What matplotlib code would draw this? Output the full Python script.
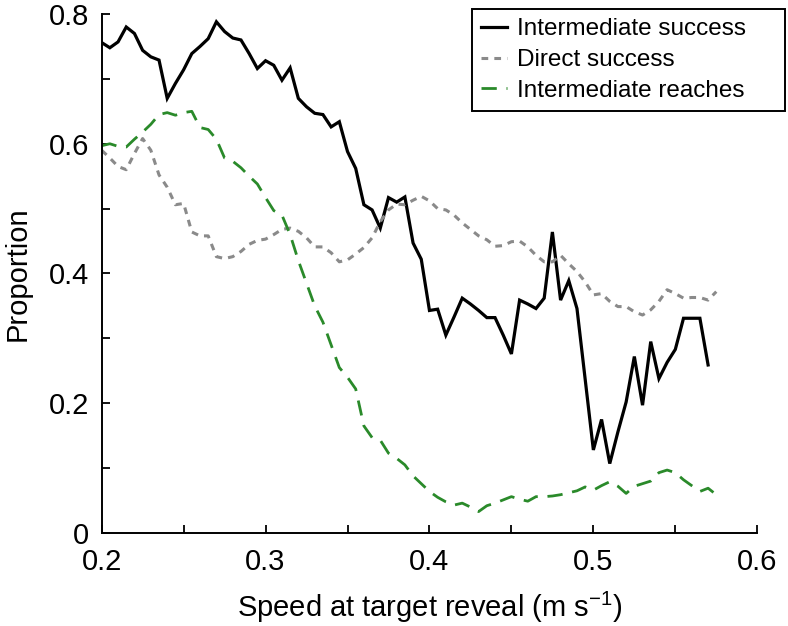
import numpy as np
import matplotlib
matplotlib.use("Agg")
import matplotlib.pyplot as plt

plt.rcParams['font.family'] = ['Liberation Sans', 'DejaVu Sans']
plt.rcParams['mathtext.default'] = 'regular'

# Speed grid (m/s)
speed_black = np.round(np.arange(0.200, 0.5701, 0.005), 3)
intermediate_success = [
    0.756, 0.748, 0.757, 0.780, 0.770, 0.744, 0.734, 0.729, 0.670, 0.693,
    0.714, 0.739, 0.750, 0.762, 0.788, 0.773, 0.763, 0.760, 0.739, 0.716,
    0.728, 0.721, 0.698, 0.717, 0.670, 0.657, 0.647, 0.645, 0.626, 0.634,
    0.588, 0.562, 0.506, 0.498, 0.470, 0.517, 0.510, 0.518, 0.447, 0.422,
    0.343, 0.345, 0.305, 0.333, 0.362, 0.353, 0.343, 0.332, 0.332, 0.305,
    0.276, 0.359, 0.353, 0.346, 0.362, 0.464, 0.359, 0.389, 0.346, 0.237,
    0.128, 0.175, 0.107, 0.156, 0.202, 0.272, 0.197, 0.295, 0.238, 0.263,
    0.283, 0.331, 0.331, 0.331, 0.259,
]

speed_other = np.round(np.arange(0.200, 0.5751, 0.005), 3)
direct_success = [
    0.590, 0.578, 0.565, 0.560, 0.585, 0.608, 0.590, 0.552, 0.533, 0.506,
    0.508, 0.464, 0.458, 0.458, 0.426, 0.423, 0.426, 0.434, 0.445, 0.451,
    0.453, 0.460, 0.468, 0.470, 0.465, 0.455, 0.441, 0.441, 0.432, 0.418,
    0.421, 0.430, 0.440, 0.455, 0.480, 0.498, 0.507, 0.506, 0.513, 0.519,
    0.512, 0.500, 0.498, 0.490, 0.478, 0.468, 0.458, 0.452, 0.442, 0.443,
    0.449, 0.450, 0.441, 0.428, 0.418, 0.418, 0.428, 0.415, 0.403, 0.387,
    0.367, 0.369, 0.357, 0.349, 0.349, 0.341, 0.336, 0.344, 0.357, 0.375,
    0.369, 0.362, 0.363, 0.363, 0.359, 0.372,
]
intermediate_reaches = [
    0.597, 0.600, 0.596, 0.595, 0.607, 0.618, 0.630, 0.645, 0.648, 0.644,
    0.648, 0.650, 0.625, 0.622, 0.607, 0.578, 0.573, 0.563, 0.550, 0.538,
    0.517, 0.497, 0.490, 0.460, 0.420, 0.385, 0.350, 0.325, 0.290, 0.255,
    0.240, 0.222, 0.165, 0.147, 0.143, 0.123, 0.115, 0.105, 0.088, 0.076,
    0.064, 0.055, 0.048, 0.043, 0.046, 0.040, 0.033, 0.042, 0.046, 0.051,
    0.056, 0.052, 0.049, 0.056, 0.056, 0.057, 0.059, 0.062, 0.065, 0.071,
    0.066, 0.073, 0.079, 0.072, 0.061, 0.072, 0.076, 0.080, 0.093, 0.097,
    0.093, 0.082, 0.073, 0.064, 0.069, 0.059,
]

x_ticks = [0.2, 0.3, 0.4, 0.5, 0.6]
y_ticks = [0, 0.2, 0.4, 0.6, 0.8]

fig = plt.figure(figsize=(7.88, 6.26), dpi=100)
ax = fig.add_axes([0.129, 0.1486, 0.832, 0.829])

ax.plot(speed_black, intermediate_success, color='black', lw=2.3,
        label='Intermediate success', solid_joinstyle='miter')
ax.plot(speed_other, direct_success, color='#8a8a8a', lw=2.2,
        dashes=(2.2, 2.0), label='Direct success')
ax.plot(speed_other, intermediate_reaches, color='#2a8a2a', lw=2.0,
        dashes=(5.5, 3.5), label='Intermediate reaches')

ax.set_xlim(0.2, 0.6)
ax.set_ylim(0, 0.8)
ax.set_xticks(x_ticks)
ax.set_xticklabels(['0.2', '0.3', '0.4', '0.5', '0.6'])
ax.set_yticks(y_ticks)
ax.set_yticklabels(['0', '0.2', '0.4', '0.6', '0.8'])
ax.set_xticks(np.arange(0.25, 0.6, 0.1), minor=True)
ax.set_yticks(np.arange(0.1, 0.8, 0.2), minor=True)

for s in ['top', 'right']:
    ax.spines[s].set_visible(False)
for s in ['left', 'bottom']:
    ax.spines[s].set_linewidth(1.4)

ax.tick_params(which='both', direction='in', width=1.3, labelsize=21,
               length=6)
ax.tick_params(axis='y', pad=9)
ax.tick_params(axis='x', pad=10.5)

ax.set_xlabel('Speed at target reveal (m s$^{-1}$)', fontsize=21, labelpad=10)
ax.set_ylabel('Proportion', fontsize=21, labelpad=12)

x0, x1 = 472 / 788, 785 / 788
y1 = 1 - 9 / 626
leg = fig.legend(loc='upper left', bbox_to_anchor=(x0, y1 - 0.2, x1 - x0, 0.2),
                 mode='expand',
                 fontsize=17.5, frameon=True, fancybox=False, framealpha=1,
                 edgecolor='black', handlelength=1.05, handletextpad=0.42,
                 borderpad=0.38, labelspacing=0.36, borderaxespad=0)
leg.get_frame().set_linewidth(1.4)

fig.savefig('out.png', dpi=100)
